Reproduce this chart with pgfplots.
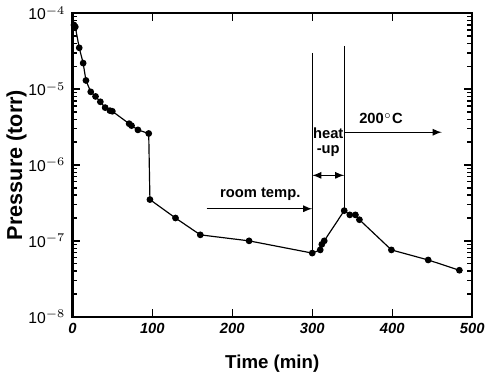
\documentclass[border=0pt]{standalone}
\usepackage{pgfplots}
\pgfplotsset{compat=1.18}
\usepackage{fontspec}
\setmainfont{Liberation Sans}
\setsansfont{Liberation Sans}
\begin{document}
\begin{tikzpicture}
\begin{axis}[
  scale only axis,
  width=203.5pt, height=154.5pt,
  xmin=0, xmax=500,
  ymode=log, ymin=1e-8, ymax=1e-4,
  xtick={0,100,200,300,400,500},
  ytick={1e-8,1e-7,1e-6,1e-5,1e-4},
  yticklabels={10$^{-8}$,10$^{-7}$,10$^{-6}$,10$^{-5}$,10$^{-4}$},
  xticklabel style={font=\fontsize{7.5}{9}\selectfont\bfseries\itshape},
  yticklabel style={font=\fontsize{8}{9}\selectfont},
  /pgf/number format/assume math mode=true,
  xlabel={\fontsize{9.5}{11}\selectfont\bfseries Time (min)},
  ylabel={\fontsize{11}{12}\selectfont\bfseries Pressure (torr)},
  xlabel style={yshift=-4pt},
  ylabel style={yshift=-6pt},
  axis line style={line width=1.2pt},
  tick style={black, line width=0.7pt},
  major tick length=4pt, minor tick length=2.5pt,
  tick align=inside,
  clip=false,
]
\addplot[black, line width=0.6pt, mark=*, mark size=1.4pt] coordinates {
(2,7.0e-5) (3.7,6.6e-5) (8.6,3.5e-5) (13.5,2.2e-5) (17,1.3e-5) (23,9.2e-6) (29,8.0e-6)
(35,6.8e-6) (41,5.7e-6) (47,5.2e-6) (50,5.1e-6) (71,3.5e-6) (74,3.3e-6)
(82,2.9e-6) (95.5,2.6e-6) (97,3.5e-7) (129,2.0e-7) (160,1.2e-7) (221,1.0e-7)
(300,6.9e-8) (310,7.6e-8) (312,9.0e-8) (315,1.0e-7) (340,2.5e-7) (347,2.2e-7)
(354,2.2e-7) (359,1.9e-7) (399,7.6e-8) (445,5.6e-8) (484,4.1e-8)
};
% annotation lines
\addplot[black, line width=0.6pt] coordinates {(300,3.0e-5) (300,6.9e-8)};
\addplot[black, line width=0.6pt] coordinates {(340,3.7e-5) (340,2.5e-7)};
\addplot[black, line width=0.6pt, -latex] coordinates {(168,2.65e-7) (300,2.65e-7)};
\addplot[black, line width=0.6pt, latex-latex] coordinates {(300,7.3e-7) (340,7.3e-7)};
\addplot[black, line width=0.6pt, -latex] coordinates {(340,2.7e-6) (462,2.7e-6)};
\node[font=\fontsize{7.5}{9}\selectfont\bfseries, anchor=south] at (axis cs:235,2.75e-7) {room temp.};
\node[font=\fontsize{7.5}{9}\selectfont\bfseries, anchor=south] at (axis cs:386,2.8e-6) {200$^\circ$C};
\node[font=\fontsize{7.5}{8}\selectfont\bfseries, align=center, inner sep=0.5pt] at (axis cs:320,2.0e-6) {heat\\-up};
\end{axis}
\end{tikzpicture}
\end{document}
